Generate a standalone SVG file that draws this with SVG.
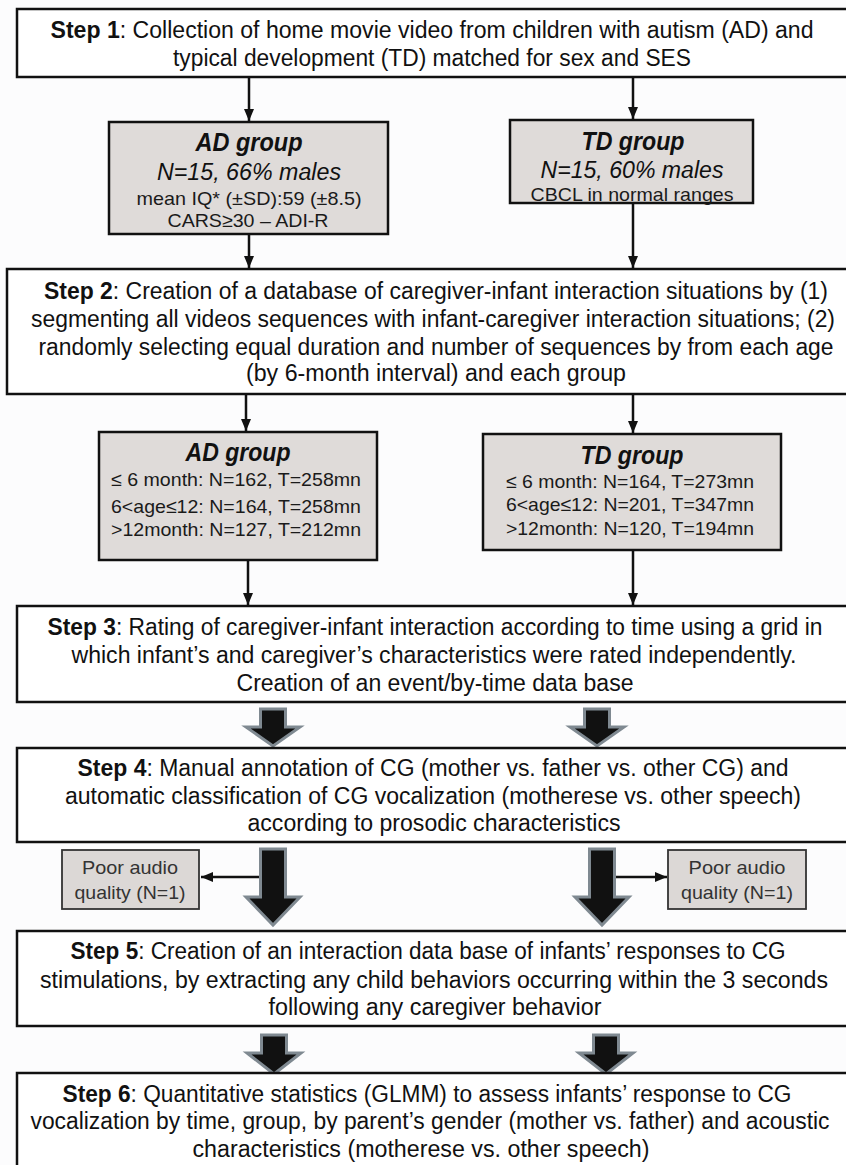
<svg xmlns="http://www.w3.org/2000/svg" width="846" height="1165" viewBox="0 0 846 1165">
<defs>
<marker id="ah" markerUnits="userSpaceOnUse" markerWidth="12" markerHeight="12" viewBox="0 0 12 12" refX="12" refY="6" orient="auto">
<path d="M0,1 L12,6 L0,11 Z" fill="#111"/>
</marker>
<style>
.bg{fill:#fcfcfd}
.step{fill:#ffffff;stroke:#111;stroke-width:2.5}
.grp{fill:#dfdbd9;stroke:#111;stroke-width:2.5}
.poor{fill:#dcd8d6;stroke:#333;stroke-width:1.8}
.t{font-family:"Liberation Sans Narrow","Liberation Sans",Arial,sans-serif;font-size:23px;fill:#111;text-anchor:middle}
.b{font-weight:bold}
.gt{font-family:"Liberation Sans Narrow","Liberation Sans",Arial,sans-serif;font-size:25px;font-weight:bold;font-style:italic;fill:#111;text-anchor:middle}
.gi{font-family:"Liberation Sans Narrow","Liberation Sans",Arial,sans-serif;font-size:23px;font-style:italic;fill:#111;text-anchor:middle}
.gs{font-family:"Liberation Sans Narrow","Liberation Sans",Arial,sans-serif;font-size:19px;fill:#1a1a1a;text-anchor:middle}
.ps{font-family:"Liberation Sans Narrow","Liberation Sans",Arial,sans-serif;font-size:19px;fill:#333;text-anchor:middle}
.ln{stroke:#111;stroke-width:2.5;fill:none;marker-end:url(#ah)}
.blk{fill:#111;stroke:#7f8991;stroke-width:3;stroke-linejoin:miter}
</style>
</defs>
<rect class="bg" x="0" y="0" width="846" height="1165"/>

<g id="connectors">
<line class="ln" x1="249" y1="78" x2="249" y2="121"/>
<line class="ln" x1="633" y1="78" x2="633" y2="119"/>
<line class="ln" x1="249" y1="235" x2="249" y2="268"/>
<line class="ln" x1="633" y1="204" x2="633" y2="268"/>
<line class="ln" x1="246" y1="395" x2="246" y2="431"/>
<line class="ln" x1="633" y1="395" x2="633" y2="433"/>
<line class="ln" x1="248" y1="561" x2="248" y2="605"/>
<line class="ln" x1="633" y1="551" x2="633" y2="605"/>
<line class="ln" x1="260" y1="877" x2="201" y2="877"/>
<line class="ln" x1="615" y1="877" x2="667" y2="877"/>
<path class="blk" d="M260.5,709 H285.5 V727 H300 L273,746 L246,727 H260.5 Z"/>
<path class="blk" d="M584.5,709 H609.5 V727 H624 L597,746 L570,727 H584.5 Z"/>
<path class="blk" d="M260.5,849 H285.5 V897 H300 L273,925 L246,897 H260.5 Z"/>
<path class="blk" d="M589.5,849 H614.5 V897 H629 L602,925 L575,897 H589.5 Z"/>
<path class="blk" d="M261.5,1035 H286.5 V1053 H301 L274,1074 L247,1053 H261.5 Z"/>
<path class="blk" d="M593.5,1035 H618.5 V1053 H633 L606,1074 L579,1053 H593.5 Z"/>
</g>

<g id="step1">
<rect class="step" x="17" y="9" width="840" height="68"/>
<text class="t" x="432" y="38" textLength="763" lengthAdjust="spacingAndGlyphs"><tspan class="b">Step 1</tspan>: Collection of home movie video from children with autism (AD) and</text>
<text class="t" x="432" y="66" textLength="518" lengthAdjust="spacingAndGlyphs">typical development (TD) matched for sex and SES</text>
</g>

<g id="ad1">
<rect class="grp" x="109" y="122" width="279" height="112"/>
<text class="gt" x="249" y="151" textLength="107" lengthAdjust="spacingAndGlyphs">AD group</text>
<text class="gi" x="249" y="180" textLength="184" lengthAdjust="spacingAndGlyphs">N=15, 66% males</text>
<text class="gs" x="249" y="205" textLength="225" lengthAdjust="spacingAndGlyphs">mean IQ* (±SD):59 (±8.5)</text>
<text class="gs" x="248" y="227" textLength="161" lengthAdjust="spacingAndGlyphs">CARS≥30 – ADI-R</text>
</g>

<g id="td1">
<rect class="grp" x="510" y="120" width="243" height="83"/>
<text class="gt" x="633" y="150" textLength="103" lengthAdjust="spacingAndGlyphs">TD group</text>
<text class="gi" x="632" y="178" textLength="183" lengthAdjust="spacingAndGlyphs">N=15, 60% males</text>
<text class="gs" x="632" y="201" textLength="203" lengthAdjust="spacingAndGlyphs">CBCL in normal ranges</text>
</g>

<g id="step2">
<rect class="step" x="7" y="269" width="850" height="125"/>
<text class="t" x="436" y="299" textLength="784" lengthAdjust="spacingAndGlyphs"><tspan class="b">Step 2</tspan>: Creation of a  database of caregiver-infant interaction situations by (1)</text>
<text class="t" x="433" y="327" textLength="804" lengthAdjust="spacingAndGlyphs">segmenting all videos sequences with infant-caregiver interaction situations; (2)</text>
<text class="t" x="436" y="355" textLength="795" lengthAdjust="spacingAndGlyphs">randomly selecting equal duration and number of sequences by from each age</text>
<text class="t" x="436" y="381" textLength="380" lengthAdjust="spacingAndGlyphs">(by 6-month interval) and each group</text>
</g>

<g id="ad2">
<rect class="grp" x="99" y="432" width="278" height="128"/>
<text class="gt" x="238" y="461" textLength="105" lengthAdjust="spacingAndGlyphs">AD group</text>
<text class="gs" x="236" y="486" textLength="250" lengthAdjust="spacingAndGlyphs">≤ 6 month: N=162, T=258mn</text>
<text class="gs" x="236" y="513" textLength="250" lengthAdjust="spacingAndGlyphs">6&lt;age≤12: N=164, T=258mn</text>
<text class="gs" x="236" y="536" textLength="250" lengthAdjust="spacingAndGlyphs">&gt;12month: N=127, T=212mn</text>
</g>

<g id="td2">
<rect class="grp" x="483" y="434" width="298" height="116"/>
<text class="gt" x="632" y="464" textLength="103" lengthAdjust="spacingAndGlyphs">TD group</text>
<text class="gs" x="630" y="488" textLength="248" lengthAdjust="spacingAndGlyphs">≤ 6 month: N=164, T=273mn</text>
<text class="gs" x="630" y="511" textLength="248" lengthAdjust="spacingAndGlyphs">6&lt;age≤12: N=201, T=347mn</text>
<text class="gs" x="630" y="535" textLength="248" lengthAdjust="spacingAndGlyphs">&gt;12month: N=120, T=194mn</text>
</g>

<g id="step3">
<rect class="step" x="17" y="606" width="840" height="96"/>
<text class="t" x="435" y="635" textLength="775" lengthAdjust="spacingAndGlyphs"><tspan class="b">Step 3</tspan>: Rating of caregiver-infant interaction according to time using a grid in</text>
<text class="t" x="434" y="663" textLength="725" lengthAdjust="spacingAndGlyphs">which infant’s and caregiver’s characteristics were rated independently.</text>
<text class="t" x="435" y="691" textLength="397" lengthAdjust="spacingAndGlyphs">Creation of an event/by-time data base</text>
</g>

<g id="step4">
<rect class="step" x="17" y="748" width="840" height="94"/>
<text class="t" x="433" y="776" textLength="711" lengthAdjust="spacingAndGlyphs"><tspan class="b">Step 4</tspan>: Manual annotation of CG (mother vs. father vs. other CG) and</text>
<text class="t" x="433" y="804" textLength="736" lengthAdjust="spacingAndGlyphs">automatic classification of CG vocalization (motherese vs. other speech)</text>
<text class="t" x="434" y="831" textLength="373" lengthAdjust="spacingAndGlyphs">according to prosodic characteristics</text>
</g>

<g id="poor-left">
<rect class="poor" x="62" y="850" width="137" height="59"/>
<text class="ps" x="130" y="874" textLength="96" lengthAdjust="spacingAndGlyphs">Poor audio</text>
<text class="ps" x="130" y="899" textLength="111" lengthAdjust="spacingAndGlyphs">quality (N=1)</text>
</g>

<g id="poor-right">
<rect class="poor" x="668" y="850" width="138" height="59"/>
<text class="ps" x="737" y="874" textLength="97" lengthAdjust="spacingAndGlyphs">Poor audio</text>
<text class="ps" x="737" y="899" textLength="112" lengthAdjust="spacingAndGlyphs">quality (N=1)</text>
</g>

<g id="step5">
<rect class="step" x="17" y="931" width="840" height="95"/>
<text class="t" x="428" y="959" textLength="715" lengthAdjust="spacingAndGlyphs"><tspan class="b">Step 5</tspan>: Creation of an interaction data base of infants’ responses to CG</text>
<text class="t" x="434" y="988" textLength="788" lengthAdjust="spacingAndGlyphs">stimulations, by extracting any child behaviors occurring within the 3 seconds</text>
<text class="t" x="435" y="1015" textLength="333" lengthAdjust="spacingAndGlyphs">following any caregiver behavior</text>
</g>

<g id="step6">
<rect class="step" x="17" y="1073" width="840" height="100"/>
<text class="t" x="427" y="1102" textLength="729" lengthAdjust="spacingAndGlyphs"><tspan class="b">Step 6</tspan>: Quantitative statistics (GLMM) to assess infants’ response to CG</text>
<text class="t" x="430" y="1129" textLength="799" lengthAdjust="spacingAndGlyphs">vocalization by time, group, by parent’s gender (mother vs. father) and acoustic</text>
<text class="t" x="421" y="1157" textLength="457" lengthAdjust="spacingAndGlyphs">characteristics (motherese vs. other speech)</text>
</g>
</svg>
